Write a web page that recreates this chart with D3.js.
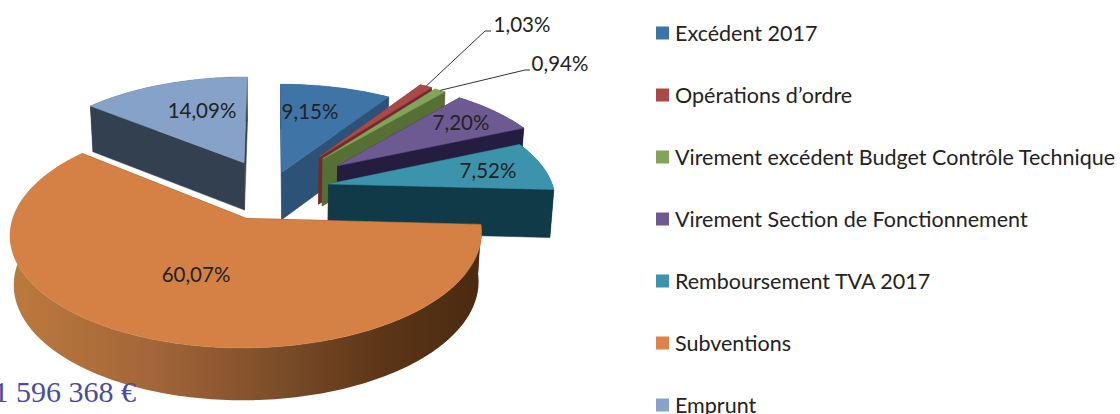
<!DOCTYPE html>
<html><head><meta charset="utf-8">
<script src="https://cdn.jsdelivr.net/npm/d3@7/dist/d3.min.js"></script>
<style>html,body{margin:0;padding:0;background:#fff;overflow:hidden}svg{display:block}</style>
</head><body><svg id="c" width="1120" height="414"></svg>
<script>
const categories=["Excédent 2017","Opérations d’ordre","Virement excédent Budget Contrôle Technique","Virement Section de Fonctionnement","Remboursement TVA 2017","Subventions","Emprunt"];
const values=[9.15,1.03,0.94,7.20,7.52,60.07,14.09];
const valueLabels=["9,15%","1,03%","0,94%","7,20%","7,52%","60,07%","14,09%"];
const topColors=["#3f74a6","#a94a49","#82a45a","#6d5a92","#3b94ac","#d58045","#86a2c9"];
const wallColors=["#2c5278","#752a2a","#566f34","#251d40","#103a47","#7b4c26","#32404f"];
const legendColors=["#3f74a6","#a94a49","#82a45a","#6d5a92","#3b94ac","#d8844a","#86a2c9"];
const explode=[39,88,87,86,59,66,65];
const drawOrder=[6,0,1,2,3,4,5];
const labelPos=[[310,111],[522,24],[560,63],[461,122],[488,170],[196,274],[202,110]];
const leaders={1:[[485,31],[491,31]],2:[[525,70],[530,70]]};

const svg=d3.select("#c");
const CX=271,CY=189,R=225,K=0.461,D=1700,H=48,BOTTOM=0.986;
const project=(X,Z,low)=>{
  const s=1/(1-Z/D);
  const x=X*s,y=Z*K*s;
  return low?[CX+x*BOTTOM,CY+y+H*(1+(s-1)*0.45)]:[CX+x,CY+y];
};
const arcs=d3.pie().sort(null).value(d=>d)(values);
const line=d3.line();
const slices=arcs.map((a,i)=>{
  const mid=(a.startAngle+a.endAngle)/2;
  const ox=Math.sin(mid)*explode[i],oz=-Math.cos(mid)*explode[i];
  const pt=(ang,r,low)=>project(ox+Math.sin(ang)*r,oz-Math.cos(ang)*r,low);
  const n=Math.max(4,Math.ceil((a.endAngle-a.startAngle)/0.02));
  const angs=d3.range(n+1).map(j=>a.startAngle+(a.endAngle-a.startAngle)*j/n);
  return {i,a,pt,angs};
});
const defs=svg.append("defs");
const g=defs.append("linearGradient").attr("id","rim").attr("gradientUnits","userSpaceOnUse")
  .attr("x1",10).attr("x2",480).attr("y1",0).attr("y2",0);
[[0,"#bb7a3c"],[0.3,"#a4663a"],[0.55,"#7f4f2a"],[0.8,"#5b3517"],[1,"#4a2a10"]].forEach(([o,c])=>g.append("stop").attr("offset",o).attr("stop-color",c));

const root=svg.append("g");
drawOrder.forEach(idx=>{
  const s=slices[idx];
  const gs=root.append("g");
  const wall=s.i===5?"#5b3517":wallColors[s.i];
  const radial=(ang)=>gs.append("path").attr("fill",wall).attr("stroke",wall).attr("stroke-width",.5)
    .attr("d",line([s.pt(ang,0,false),s.pt(ang,R,false),s.pt(ang,R,true),s.pt(ang,0,true)])+"Z");
  radial(s.a.startAngle);radial(s.a.endAngle);
  const rimPts=s.angs.map(t=>s.pt(t,R,false)).concat(s.angs.slice().reverse().map(t=>s.pt(t,R,true)));
  gs.append("path").attr("fill",s.i===5?"url(#rim)":wall).attr("d",line(rimPts)+"Z");
  const topPts=[s.pt(0,0,false)].concat(s.angs.map(t=>s.pt(t,R,false)));
  gs.append("path").attr("fill",topColors[s.i]).attr("stroke",topColors[s.i]).attr("stroke-width",.5).attr("d",line(topPts)+"Z");
});

// leader lines
Object.keys(leaders).forEach(k=>{
  const s=slices[+k],mid=(s.a.startAngle+s.a.endAngle)/2;
  root.append("path").attr("fill","none").attr("stroke","#333").attr("stroke-width",1)
    .attr("d",line([s.pt(mid,R,false)].concat(leaders[k])));
});
// value labels
root.selectAll("text.v").data(valueLabels).join("text").attr("class","v")
  .attr("x",(d,i)=>labelPos[i][0]).attr("y",(d,i)=>labelPos[i][1])
  .attr("text-anchor","middle").attr("dominant-baseline","central")
  .attr("font-family","Lato,'Open Sans',sans-serif").attr("font-size",20.5).attr("fill","#222").text(d=>d);
// legend
const ly=d3.scalePoint().domain(categories).range([33,405]);
const lg=svg.append("g").selectAll("g").data(categories).join("g").attr("transform",d=>`translate(656,${ly(d)})`);
lg.append("rect").attr("x",0).attr("y",-6.5).attr("width",13).attr("height",13).attr("fill",(d,i)=>legendColors[i]);
lg.append("text").attr("x",19).attr("y",7.5).attr("font-family","Lato,'Open Sans',sans-serif").attr("font-size",21.5).attr("fill","#222").text(d=>d);
// title fragment
svg.append("text").attr("x",136).attr("y",402).attr("text-anchor","end").attr("font-family","'Liberation Serif',serif")
  .attr("font-size",30).attr("fill","#4b4a9f").text("1 596 368 €");
</script></body></html>
